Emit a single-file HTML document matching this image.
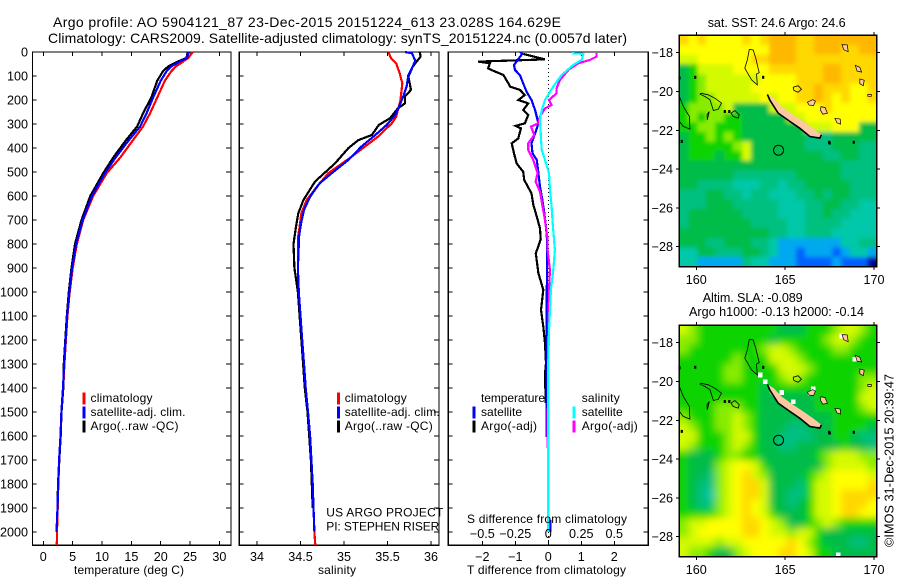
<!DOCTYPE html>
<html lang="en">
<head>
<meta charset="utf-8">
<title>Argo profile 5904121_87</title>
<style>
html,body{margin:0;padding:0;background:#fff;}
#chart{display:block;position:absolute;left:0;top:0;}
text{font-family:"Liberation Sans",sans-serif;fill:#000;}
.t{font-size:12.6px;}
.lab{font-size:12px;}
.title{font-size:14px;}
.line{fill:none;stroke-width:2.2;stroke-linejoin:miter;shape-rendering:crispEdges;}
.frame{fill:none;stroke:#000;stroke-width:1.2;shape-rendering:crispEdges;}
.coast{fill:none;stroke:#000;stroke-width:.8;}
.isl{fill:#ffc8a0;stroke:#000;stroke-width:.7;}
.main-isl{fill:#ffc8a0;stroke:none;}
.shore{fill:none;stroke:#000;stroke-width:1.6;}
</style>
</head>
<body>
<svg id="chart" xmlns="http://www.w3.org/2000/svg" width="900" height="580" viewBox="0 0 900 580">
  <defs>
    <filter id="blur-sst" filterUnits="userSpaceOnUse" x="640" y="0" width="260" height="300"><feGaussianBlur stdDeviation="2"/></filter>
    <filter id="blur-sla" filterUnits="userSpaceOnUse" x="640" y="290" width="260" height="290"><feGaussianBlur stdDeviation="4"/></filter>
    <clipPath id="clip-sst"><rect x="679.3" y="35.3" width="197.4" height="231.5"/></clipPath>
    <clipPath id="clip-sla"><rect x="679.3" y="325.3" width="197.4" height="231.5"/></clipPath>
  </defs>
  <rect x="0" y="0" width="900" height="580" fill="#fff"/>
  <text class="title" x="53" y="27" textLength="508" lengthAdjust="spacing">Argo profile: AO 5904121_87 23-Dec-2015 20151224_613 23.028S 164.629E</text>
  <text class="title" x="48" y="43" textLength="579" lengthAdjust="spacing">Climatology: CARS2009. Satellite-adjusted climatology: synTS_20151224.nc (0.0057d later)</text>
  <g id="sst"></g>
  <g id="sla"></g>
  <g id="plots"></g>
  <text class="t" x="707.7" y="27" textLength="138" lengthAdjust="spacing">sat. SST: 24.6 Argo: 24.6</text>
  <text class="t" x="702.7" y="302" textLength="100" lengthAdjust="spacing">Altim. SLA: -0.089</text>
  <text class="t" x="689" y="316" textLength="175" lengthAdjust="spacing">Argo h1000: -0.13 h2000: -0.14</text>
  <text class="t" transform="translate(893.5,547) rotate(-90)" x="0" y="0" textLength="173" lengthAdjust="spacing">©IMOS 31-Dec-2015 20:39:47</text>
  <text class="lab" x="326.3" y="516.5" textLength="117" lengthAdjust="spacing">US ARGO PROJECT</text>
  <text class="lab" x="326.3" y="530.5" textLength="113" lengthAdjust="spacing">PI: STEPHEN RISER</text>
</svg>
<script>
// ---------- profile data ----------
var depthTicks = [0,100,200,300,400,500,600,700,800,900,1000,1100,1200,1300,1400,1500,1600,1700,1800,1900,2000];
var tempTicks = [0,5,10,15,20,25,30];
var salTicks = [34,34.5,35,35.5,36];
var salTickLabels = ['34','34.5','35','35.5','36'];
var dtTicks = [-2,-1,0,1,2];
var dtTickLabels = ['\u22122','\u22121','0','1','2'];
var dsTicks = [-0.5,-0.25,0,0.25,0.5];
var dsTickLabels = ['\u22120.5','\u22120.25','0','0.25','0.5'];

var tempDepth = [0,25,40,60,80,120,190,255,310,370,440,505,600,700,800,900,1000,1100,1200,1300,1400,1500,1600,1700,1800,1900,2000,2055];
var tempClim = [25.45,24.7,23.8,22.6,21.8,20.7,19.4,18.2,17.0,15.2,13.1,10.8,8.5,6.8,5.7,5.0,4.5,4.1,3.85,3.6,3.4,3.1,2.96,2.73,2.56,2.45,2.33,2.3];
var tempSat = [24.7,24.5,23.2,21.8,21.0,20.0,18.7,17.6,16.5,14.5,12.3,10.5,8.3,6.7,5.6,4.9,4.45,4.05,3.8,3.55,3.35,3.08,2.93,2.7,2.53,2.42,2.25];
var tempArgo = [24.6,24.4,22.9,21.3,20.4,19.4,18.4,17.0,16.0,14.0,11.9,10.2,8.0,6.5,5.4,4.8,4.35,4.0,3.75,3.5,3.4,3.1,2.95,2.72,2.5,2.42];

var salClimDepth = [0,26,47,89,130,200,270,297,353,394,436,505,561,617,672,728,776,800,900,1000,1100,1200,1300,1400,1500,1600,1700,1800,1900,2000,2055];
var salClim = [35.51,35.54,35.60,35.64,35.67,35.65,35.6,35.55,35.39,35.24,35.09,34.82,34.69,34.57,34.51,34.49,34.47,34.47,34.47,34.48,34.50,34.52,34.54,34.56,34.586,34.61,34.625,34.64,34.65,34.66,34.67];
var salSatDepth = [0,5,36,68,96,144,186,221,263,304,346,394,450,505,547,603,658,714,776,800,900,1000,1100,1200,1300,1400,1500,1600,1700,1800,1900,2000];
var salSat = [35.70,35.78,35.82,35.78,35.74,35.72,35.68,35.64,35.59,35.49,35.36,35.20,35.05,34.86,34.72,34.61,34.54,34.506,34.48,34.48,34.47,34.48,34.50,34.52,34.54,34.56,34.586,34.61,34.625,34.64,34.65,34.66];
var salArgoDepth = [0,19,61,103,158,186,214,235,276,304,346,367,401,464,540,617,672,728,776,800,900,1000,1100,1200,1300,1400,1500,1600,1700,1800,1900];
var salArgo = [35.87,35.88,35.79,35.74,35.77,35.70,35.70,35.62,35.53,35.40,35.32,35.165,35.05,34.897,34.667,34.533,34.475,34.448,34.429,34.42,34.43,34.47,34.49,34.51,34.53,34.55,34.58,34.60,34.62,34.63,34.64];

var dtArgoDepth = [8,31,40,47,68,75,96,131,144,158,179,200,214,242,263,297,308,318,360,381,422,464,499,533,589,638,686,735,781,839,922,991,1075,1144,1214,1297,1339,1463];
var dtArgo = [-.76,-.10,-2.12,-1.77,-1.82,-1.72,-1.36,-1.21,-1.16,-.86,-.71,-.91,-.61,-.76,-.61,-.71,-.99,-.83,-.91,-1.11,-1.04,-.96,-.76,-.73,-.51,-.45,-.35,-.25,-.23,-.38,-.30,-.15,-.22,-.15,-.10,-.07,-.10,-.08];
var dtSatDepth = [0,8,54,75,96,131,165,200,242,297,339,381,422,450,505,561,617,672,728,781,900,1100,1300,1604];
var dtSat = [-.85,-.79,-1.04,-1.01,-.86,-.76,-.66,-.51,-.40,-.30,-.40,-.51,-.48,-.35,-.30,-.25,-.18,-.12,-.07,-.04,-.04,-.05,-.05,-.05];
var dtSatTailDepth = [1950,2000];
var dtSatTail = [.06,.06];
var dsArgoDepth = [5,19,33,47,75,117,151,172,200,221,235,269,297,311,346,381,408,450,505,540,582,644,700,781,825,908,1000,1200,1650];
var dsArgo = [.366,.366,.316,.227,.152,.088,.063,.063,.005,.025,-.025,-.063,-.076,-.131,-.106,-.152,-.152,-.114,-.081,-.096,-.063,-.043,-.025,-.005,-.005,.012,.005,0,-.005];
var dsSatDepth = [5,8,33,54,96,144,200,242,283,353,408,450,505,575,644,714,781,825,908,991,1160,1290,1500,2000];
var dsSat = [.182,.265,.253,.189,.101,.038,-.025,-.05,-.063,-.056,-.05,-.025,.005,.013,.025,.033,.043,.05,.038,.02,.005,0,0,0];

// ---------- map data: each character is a colour level of one grid cell ----------
var sstRows = [
"a9a9999a9abbbaabbbbbbb","9999999999bbbaabbbaabb","88999999aabbbaaaaaaaaa","5688889999aaaaaabbaaaa",
"5678888889999aaabbaaaa","5678888899999aabaaa99a","5677888889899aaba9a99a","6777785555888999a99999",
"6767766555558899999999","6677666555555588899955","5667676555555544455555","5666667855555544455544",
"5666566855555555445544","5555555555555555554444","5555554444444555554444","5544443334434455555444",
"4445544344333445455444","4445554444433344554433","4555555444433344544333","4555555544443344443333",
"5555555555443344433333","5554455544322222223344","3355444554322122212332","3322222433222111121110"];
var slaRows = [
"8766666666655566678876","7766666666566666788766","7666666667887666677666","6666667666888766666666",
"6666677666688876666666","6666677666678766666677","6666666665666666666678","6666666665555556666688",
"6666777665555556666678","7666778765555555566666","8766778765554455566665","8866678865544445566544",
"8766678765544555556554","6555677665555556788877","6555789986555555788887","6554789a87555567899998",
"6544789aa855546889999a","6543789aa855446889aaaa","6544789a9855456889aaa9","6666789a9865556889aa99",
"7889999aa9875567876666","7899999aa9887886555555","888878899999a976555445","87765578999aa986655555"];
var levelColors = {'0':'#0000a0','1':'#0060ff','2':'#00a8f0','3':'#00c8a8','4':'#00c080','5':'#00bc48','6':'#10d400','7':'#88ec00','8':'#d4fa00','9':'#ffff00','a':'#ffd800','b':'#ffb800'};
var lonTicks = [160,165,170];
var latTicks = [-18,-20,-22,-24,-26,-28];
var argoLon = 164.629;
var argoLat = -23.028;
var mainIsland = [[164.04,-20.17],[164.36,-20.35],[164.79,-20.77],[165.45,-21.20],[166.01,-21.54],[166.57,-21.89],[167.04,-22.23],[166.95,-22.40],[166.39,-22.32],[165.82,-21.89],[165.26,-21.54],[164.61,-21.12],[164.14,-20.60]];
var mainShore = [[164.0,-20.15],[164.14,-20.45],[164.61,-21.12],[165.26,-21.54],[165.82,-21.89],[166.39,-22.32],[166.95,-22.40],[167.04,-22.23]];
var filledIslands = [
[[167.02,-20.78],[167.25,-20.83],[167.38,-21.12],[167.12,-21.17],[166.98,-20.95]],
[[167.8,-21.38],[168.1,-21.42],[168.12,-21.68],[167.92,-21.62]],
[[166.25,-20.55],[166.55,-20.42],[166.7,-20.5],[166.6,-20.72],[166.35,-20.7]],
[[168.2,-17.58],[168.5,-17.6],[168.55,-17.95],[168.3,-17.85]],
[[168.95,-18.65],[169.2,-18.75],[169.3,-19.0],[169.05,-18.95]],
[[169.2,-19.35],[169.45,-19.42],[169.4,-19.7],[169.2,-19.6]],
[[169.65,-20.15],[169.85,-20.15],[169.85,-20.25],[169.65,-20.25]]];
var reefOutlines = [
[[162.98,-17.83],[163.20,-17.86],[163.35,-18.29],[163.48,-18.80],[163.54,-19.03],[163.39,-19.10],[163.43,-19.66],[163.11,-19.40],[162.73,-18.80],[162.87,-18.38],[162.98,-17.83]],
[[160.24,-20.09],[160.67,-20.17],[161.05,-20.35],[161.42,-20.60],[161.24,-20.91],[160.96,-20.98],[160.77,-20.43],[160.49,-20.26],[160.21,-20.14],[160.24,-20.09]],
[[160.73,-21.03],[160.62,-21.46],[160.6,-21.2],[160.73,-21.03]],
[[162.17,-20.98],[162.42,-21.20],[162.36,-21.37],[162.08,-21.29],[161.95,-21.12],[162.17,-20.98]],
[[159.05,-20.26],[159.27,-20.77],[159.61,-21.29],[159.64,-21.94],[159.27,-21.80],[159.05,-21.54]],
[[165.45,-19.78],[165.73,-19.70],[165.92,-19.88],[165.73,-20.04],[165.49,-19.95],[165.45,-19.78]]];
var rockLon = [159.93,159.05,159.18,161.6,168.86,163.76,167.47,167.5,161.85];
var rockLat = [-19.27,-19.3,-22.57,-21.03,-22.62,-19.27,-22.62,-22.66,-21.03];
var maskLon = [163.58,163.86,164.79,165.45,165.82,166.39,166.57,168.16,168.91,167.98];
var maskLat = [-19.66,-20.0,-20.55,-21.03,-21.6,-20.6,-20.38,-17.64,-18.84,-28.94];

var NS = 'http://www.w3.org/2000/svg';
function yD(d){ return 52 + d * 0.24; }
function xTemp(v){ return 43.3 + v * 5.87; }
function xSal(v){ return 257 + (v - 34) * 87; }
function xDT(v){ return 548.3 + v * 33; }
function xDS(v){ return 548.3 + v * 132; }
function xLon(v){ return 696.3 + (v - 160) * 17.77; }
function yLat(v){ return 52.7 + (-18 - v) * 19.4; }

function add(parent, tag, attrs, name){
  var el = document.createElementNS(NS, tag);
  for (var k in attrs) { el.setAttribute(k, attrs[k]); }
  
  
  parent.appendChild(el);
  return el;
}
function label(parent, x, y, str, cls, anchor, name, len){
  var a = {x:x, y:y, 'class':cls, 'text-anchor':anchor};
  if (len) { a.textLength = len; a.lengthAdjust = 'spacing'; }
  var el = add(parent, 'text', a, name);
  el.textContent = str;
  return el;
}
function series(parent, xf, depths, vals, color, name, width){
  var pts = [];
  for (var i = 0; i < vals.length; i++) { pts.push(xf(vals[i]).toFixed(1) + ',' + yD(depths[i]).toFixed(1)); }
  add(parent, 'polyline', {points:pts.join(' '), 'class':'line', stroke:color, 'stroke-width':width || 2.2}, name);
}
function frame(parent, x0, x1, name, xticks){
  add(parent, 'rect', {x:x0, y:52, width:x1 - x0, height:493.3, 'class':'frame'}, name);
  for (var i = 0; i < depthTicks.length; i++) {
    var y = yD(depthTicks[i]);
    add(parent, 'line', {x1:x0, x2:x0 + 4, y1:y, y2:y, stroke:'#000', 'shape-rendering':'crispEdges'}, name + '-left-tick');
    add(parent, 'line', {x1:x1 - 5, x2:x1, y1:y, y2:y, stroke:'#000', 'shape-rendering':'crispEdges'}, name + '-right-tick');
  }
  for (var j = 0; j < xticks.length; j++) {
    var x = xticks[j];
    add(parent, 'line', {x1:x, x2:x, y1:52, y2:56, stroke:'#000', 'shape-rendering':'crispEdges'}, name + '-top-tick');
    add(parent, 'line', {x1:x, x2:x, y1:541, y2:545, stroke:'#000', 'shape-rendering':'crispEdges'}, name + '-bottom-tick');
  }
}
function swatch(parent, x, y, color, name){
  add(parent, 'rect', {x:x, y:y, width:3, height:12, fill:color}, name);
}

var plots = document.getElementById('plots');

// temperature panel
frame(plots, 32.5, 231, 'temperature-panel', tempTicks.map(xTemp));
series(plots, xTemp, tempDepth, tempClim, '#ff0000', 'temperature-climatology-line');
series(plots, xTemp, tempDepth, tempArgo, '#000000', 'temperature-argo-line');
series(plots, xTemp, tempDepth, tempSat, '#0000ff', 'temperature-satellite-line');
for (var i = 0; i < depthTicks.length; i++) {
  label(plots, 28, yD(depthTicks[i]) + 4.5, String(depthTicks[i]), 't', 'end', 'depth-tick-label');
}
for (var i = 0; i < tempTicks.length; i++) {
  label(plots, xTemp(tempTicks[i]), 561, String(tempTicks[i]), 't', 'middle', 'temperature-tick-label');
}
label(plots, 74, 574, 'temperature (deg C)', 'lab', 'start', 'temperature-axis-title', 110);

// salinity panel
frame(plots, 239.3, 439, 'salinity-panel', salTicks.map(xSal));
series(plots, xSal, salClimDepth, salClim, '#ff0000', 'salinity-climatology-line');
series(plots, xSal, salArgoDepth, salArgo, '#000000', 'salinity-argo-line');
series(plots, xSal, salSatDepth, salSat, '#0000ff', 'salinity-satellite-line');
for (var i = 0; i < salTicks.length; i++) {
  label(plots, xSal(salTicks[i]), 561, salTickLabels[i], 't', 'middle', 'salinity-tick-label');
}
label(plots, 318, 574, 'salinity', 'lab', 'start', 'salinity-axis-title', 38);

// difference panel
frame(plots, 448.3, 648.3, 'difference-panel', dtTicks.map(xDT));
for (var d = 52; d < 545; d += 4) {
  add(plots, 'rect', {x:548, y:d, width:1, height:1, fill:'#000'}, 'zero-line-dot');
}
series(plots, xDT, dtArgoDepth, dtArgo, '#000000', 'temperature-difference-argo-line');
series(plots, xDT, dtSatDepth, dtSat, '#0000ff', 'temperature-difference-satellite-line');
series(plots, xDT, dtSatTailDepth, dtSatTail, '#0000ff', 'temperature-difference-satellite-deep-line');
series(plots, xDS, dsArgoDepth, dsArgo, '#ff00ff', 'salinity-difference-argo-line');
series(plots, xDS, dsSatDepth, dsSat, '#00ffff', 'salinity-difference-satellite-line', 2.6);
for (var i = 0; i < dtTicks.length; i++) {
  label(plots, xDT(dtTicks[i]), 561, dtTickLabels[i], 't', 'middle', 'temperature-difference-tick-label');
}
for (var i = 0; i < dsTicks.length; i++) {
  label(plots, xDS(dsTicks[i]), 538, dsTickLabels[i], 't', 'middle', 'salinity-difference-tick-label');
}
label(plots, 467, 523, 'S difference from climatology', 'lab', 'start', 'salinity-difference-axis-title', 160);
label(plots, 467, 574, 'T difference from climatology', 'lab', 'start', 'temperature-difference-axis-title', 159);

// legends
swatch(plots, 82.5, 392.5, '#ff0000', 'legend-swatch-climatology');
swatch(plots, 82.5, 406.5, '#0000ff', 'legend-swatch-satellite');
swatch(plots, 82.5, 420.5, '#000000', 'legend-swatch-argo');
label(plots, 90.5, 402, 'climatology', 'lab', 'start', 'legend-climatology', 62);
label(plots, 90.5, 416, 'satellite-adj. clim.', 'lab', 'start', 'legend-satellite', 95);
label(plots, 90.5, 430, 'Argo(..raw -QC)', 'lab', 'start', 'legend-argo', 88);
swatch(plots, 337, 392.5, '#ff0000', 'legend-swatch-climatology');
swatch(plots, 337, 406.5, '#0000ff', 'legend-swatch-satellite');
swatch(plots, 337, 420.5, '#000000', 'legend-swatch-argo');
label(plots, 344.7, 402, 'climatology', 'lab', 'start', 'legend-climatology', 62);
label(plots, 344.7, 416, 'satellite-adj. clim.', 'lab', 'start', 'legend-satellite', 95);
label(plots, 344.7, 430, 'Argo(..raw -QC)', 'lab', 'start', 'legend-argo', 88);
label(plots, 481, 402, 'temperature', 'lab', 'start', 'legend-temperature-heading', 64);
swatch(plots, 472.5, 406.5, '#0000ff', 'legend-swatch-temperature-satellite');
swatch(plots, 472.5, 420.5, '#000000', 'legend-swatch-temperature-argo');
label(plots, 481, 416, 'satellite', 'lab', 'start', 'legend-temperature-satellite', 41);
label(plots, 481, 430, 'Argo(-adj)', 'lab', 'start', 'legend-temperature-argo', 56);
label(plots, 581.7, 402, 'salinity', 'lab', 'start', 'legend-salinity-heading', 38);
swatch(plots, 572.5, 406.5, '#00ffff', 'legend-swatch-salinity-satellite');
swatch(plots, 572.5, 420.5, '#ff00ff', 'legend-swatch-salinity-argo');
label(plots, 581.7, 416, 'satellite', 'lab', 'start', 'legend-salinity-satellite', 41);
label(plots, 581.7, 430, 'Argo(-adj)', 'lab', 'start', 'legend-salinity-argo', 56);

// maps
function drawMap(id, rows, dy, blurId, clipId, showMask){
  var g = document.getElementById(id);
  var clip = add(g, 'g', {'clip-path':'url(#' + clipId + ')'}, 'map-field-clip');
  var field = add(clip, 'g', {filter:'url(#' + blurId + ')'}, 'map-field');
  var cw = 197.4 / 22, ch = 231.5 / 24, pad = 14;
  for (var r = 0; r < rows.length; r++) {
    for (var c = 0; c < rows[r].length; c++) {
      var x = 679.3 + c * cw, y = 35.3 + dy + r * ch, w = cw + .4, h = ch + .4;
      if (c === 0) { x -= pad; w += pad; }
      if (c === rows[r].length - 1) { w += pad; }
      if (r === 0) { y -= pad; h += pad; }
      if (r === rows.length - 1) { h += pad; }
      add(field, 'rect', {x:x.toFixed(2), y:y.toFixed(2), width:w.toFixed(2), height:h.toFixed(2), fill:levelColors[rows[r].charAt(c)], 'shape-rendering':'crispEdges'}, 'map-cell');
    }
  }
  function pts(list){
    return list.map(function(p){ return xLon(p[0]).toFixed(1) + ',' + (yLat(p[1]) + dy).toFixed(1); }).join(' ');
  }
  if (showMask) {
    for (var i = 0; i < maskLon.length; i++) {
      add(g, 'rect', {x:(xLon(maskLon[i]) - 2).toFixed(1), y:(yLat(maskLat[i]) + dy - 2.2).toFixed(1), width:4.4, height:4.8, fill:'#fff', 'shape-rendering':'crispEdges'}, 'land-mask-cell');
    }
  }
  for (var i = 0; i < reefOutlines.length; i++) {
    add(g, 'polyline', {points:pts(reefOutlines[i]), 'class':'coast'}, 'reef-outline');
  }
  add(g, 'polygon', {points:pts(mainIsland), 'class':'main-isl'}, 'new-caledonia-island');
  add(g, 'polyline', {points:pts(mainShore), 'class':'shore'}, 'new-caledonia-shore');
  for (var i = 0; i < filledIslands.length; i++) {
    add(g, 'polygon', {points:pts(filledIslands[i]), 'class':'isl'}, 'island');
  }
  for (var i = 0; i < rockLon.length; i++) {
    add(g, 'rect', {x:(xLon(rockLon[i]) - 1).toFixed(1), y:(yLat(rockLat[i]) + dy - 1.5).toFixed(1), width:2.2, height:3, fill:'#000'}, 'small-island');
  }
  add(g, 'circle', {cx:xLon(argoLon), cy:yLat(argoLat) + dy, r:5, fill:'none', stroke:'#000', 'stroke-width':1}, 'argo-position-marker');
  add(g, 'rect', {x:679.3, y:35.3 + dy, width:197.4, height:231.5, 'class':'frame'}, 'map-frame');
  for (var i = 0; i < lonTicks.length; i++) {
    var tx = xLon(lonTicks[i]);
    add(g, 'line', {x1:tx, x2:tx, y1:32 + dy, y2:35.3 + dy, stroke:'#000', 'shape-rendering':'crispEdges'}, 'map-top-tick');
    add(g, 'line', {x1:tx, x2:tx, y1:266.8 + dy, y2:270 + dy, stroke:'#000', 'shape-rendering':'crispEdges'}, 'map-bottom-tick');
    label(g, tx, 284 + dy, String(lonTicks[i]), 't', 'middle', 'longitude-tick-label');
  }
  for (var i = 0; i < latTicks.length; i++) {
    var ty = yLat(latTicks[i]) + dy;
    add(g, 'line', {x1:676, x2:679.3, y1:ty, y2:ty, stroke:'#000', 'shape-rendering':'crispEdges'}, 'map-left-tick');
    add(g, 'line', {x1:876.7, x2:880, y1:ty, y2:ty, stroke:'#000', 'shape-rendering':'crispEdges'}, 'map-right-tick');
    label(g, 673, ty + 4.5, String(latTicks[i]).replace('-', '\u2212'), 't', 'end', 'latitude-tick-label');
  }
}
drawMap('sst', sstRows, 0, 'blur-sst', 'clip-sst', false);
drawMap('sla', slaRows, 290, 'blur-sla', 'clip-sla', true);
</script>
</body>
</html>
